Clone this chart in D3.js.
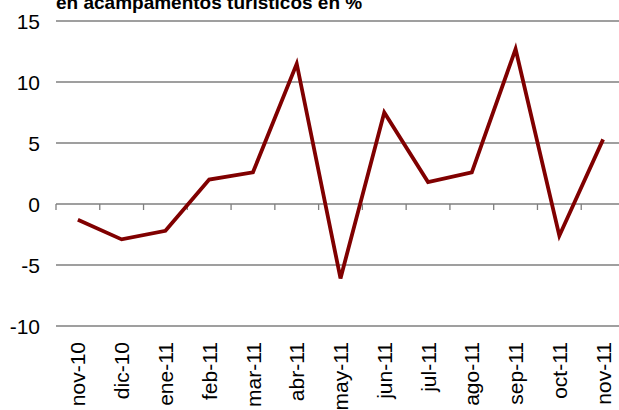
<!DOCTYPE html>
<html>
<head>
<meta charset="utf-8">
<script src="https://cdn.jsdelivr.net/npm/d3@7"></script>
<style>
  body { margin: 0; background: #fff; }
  svg { display: block; font-family: "Liberation Sans", Arial, sans-serif; }
</style>
</head>
<body>
<div id="chart"></div>
<script>
const months = ['nov-10', 'dic-10', 'ene-11', 'feb-11', 'mar-11', 'abr-11', 'may-11',
  'jun-11', 'jul-11', 'ago-11', 'sep-11', 'oct-11', 'nov-11'];
const values = [-1.3, -2.9, -2.2, 2.0, 2.6, 11.5, -6.1, 7.5, 1.8, 2.6, 12.7, -2.6, 5.3];
const yTicks = [-10, -5, 0, 5, 10, 15];
const title = 'en acampamentos turísticos en  %';

const width = 619, height = 410;

const svg = d3.select('#chart').append('svg')
  .attr('width', width)
  .attr('height', height);

// plot runs off the right edge a little, like the original
const x = d3.scaleBand().domain(months).range([56, 625]);
const y = d3.scaleLinear().domain([-10, 15]).range([326, 21]);

// gridlines
svg.append('g')
  .selectAll('line')
  .data(yTicks.filter(d => d !== 0))
  .join('line')
  .attr('x1', 56).attr('x2', 625)
  .attr('y1', d => y(d)).attr('y2', d => y(d))
  .attr('stroke', '#7f7f7f')
  .attr('stroke-width', 1.3);

// y labels
svg.append('g')
  .selectAll('text')
  .data(yTicks)
  .join('text')
  .attr('x', 40)
  .attr('y', d => y(d))
  .attr('dy', '0.36em')
  .attr('text-anchor', 'end')
  .attr('font-size', 21)
  .attr('fill', '#000')
  .text(d => d);

// zero axis with ticks between months
const zero = svg.append('g');
zero.append('line')
  .attr('x1', 56).attr('x2', 625)
  .attr('y1', y(0)).attr('y2', y(0))
  .attr('stroke', '#7f7f7f')
  .attr('stroke-width', 1.3);
zero.selectAll('.tk')
  .data(months)
  .join('line')
  .attr('class', 'tk')
  .attr('x1', d => x(d)).attr('x2', d => x(d))
  .attr('y1', y(0)).attr('y2', y(0) + 6)
  .attr('stroke', '#7f7f7f')
  .attr('stroke-width', 1.3);

// x labels, rotated
svg.append('g')
  .selectAll('text')
  .data(months)
  .join('text')
  .attr('transform', d => `translate(${x(d) + x.bandwidth() / 2},342) rotate(-90)`)
  .attr('dy', '0.36em')
  .attr('text-anchor', 'end')
  .attr('font-size', 21)
  .attr('fill', '#000')
  .text(d => d);

// the series
const line = d3.line()
  .x((d, i) => x(months[i]) + x.bandwidth() / 2)
  .y(d => y(d));

svg.append('path')
  .datum(values)
  .attr('d', line)
  .attr('fill', 'none')
  .attr('stroke', '#800000')
  .attr('stroke-width', 3.8)
  .attr('stroke-linejoin', 'miter');

// title (top line is cut off in the source)
svg.append('text')
  .attr('x', 56)
  .attr('y', 9)
  .attr('font-size', 19)
  .attr('font-weight', 'bold')
  .attr('fill', '#000')
  .text(title);
</script>
</body>
</html>
